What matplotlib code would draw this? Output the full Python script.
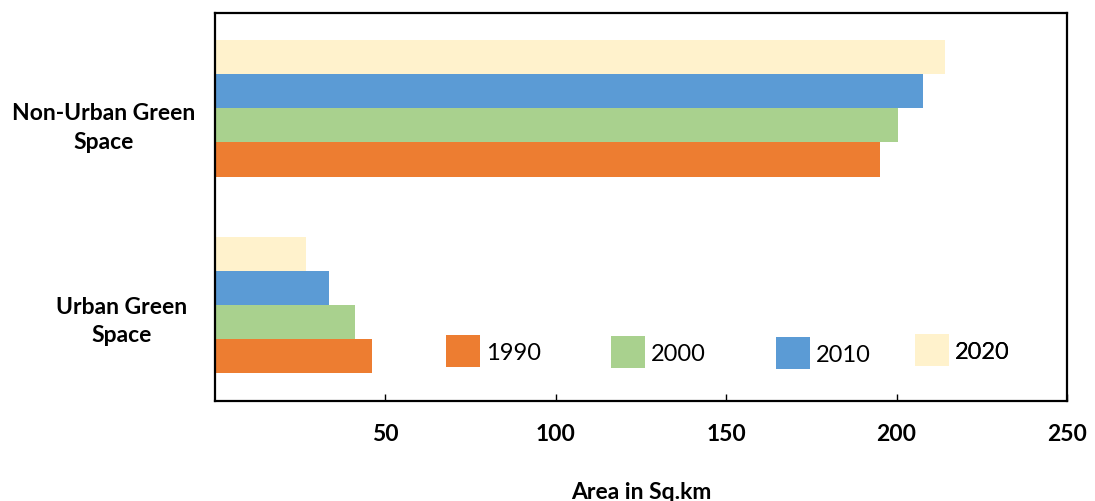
import matplotlib
matplotlib.use("Agg")
import matplotlib.pyplot as plt
import matplotlib.transforms as mtransforms
import numpy as np

categories = ["Urban Green\nSpace", "Non-Urban Green\nSpace"]
years = ["1990", "2000", "2010", "2020"]
v1990 = [46.1, 195.2]
v2000 = [41.0, 200.4]
v2010 = [33.4, 207.8]
v2020 = [26.7, 214.3]
colors = ["#ED7D31", "#A9D18E", "#5B9BD5", "#FFF2CC"]
xticks = [50, 100, 150, 200, 250]

series = [v1990, v2000, v2010, v2020]

plt.rcParams["font.family"] = ["Lato", "DejaVu Sans"]

fig = plt.figure(figsize=(10.95, 5.02), dpi=100)
ax = fig.add_axes([215/1095, 1-402/502, (1067-215)/1095, (402-14)/502])

y = np.arange(len(categories))
h = 0.1735
handles = []
for i, (vals, c, lab) in enumerate(zip(series, colors, years)):
    b = ax.barh(y + (i - 1.5) * h, vals, height=h, color=c, label=lab,
                edgecolor="none")
    handles.append(b)

ax.set_xlim(0, 250)
ax.set_ylim(-0.492, 1.487)
ax.set_xticks(xticks)
ax.set_xticklabels([str(t) for t in xticks], fontsize=16.5, fontweight="bold")
ax.tick_params(axis="x", direction="in", length=5, width=1, pad=15.5)
ax.set_yticks(y)
ax.set_yticklabels(categories, fontsize=16.5, fontweight="bold",
                   multialignment="center", linespacing=1.45)
ax.tick_params(axis="y", length=0, pad=14)
label_dx = [-8, 0]  # px
label_dy = [-10, -13]  # px
for lbl, dx, dy in zip(ax.get_yticklabels(), label_dx, label_dy):
    shift = mtransforms.ScaledTranslation(dx/100, dy/100, fig.dpi_scale_trans)
    lbl.set_transform(lbl.get_transform() + shift)
for s in ax.spines.values():
    s.set_linewidth(1.6)
    s.set_color("black")

ax.set_xlabel("Area in Sq.km", fontsize=16.5, fontweight="bold", labelpad=27)

# legend entries placed individually (uneven spacing in reference)
anchors = [(446, 352), (611, 353), (776, 354), (915, 351)]
for hdl, lab, (px, py) in zip(handles, years, anchors):
    ax_x = (px - 215) / (1067 - 215)
    ax_y = (402 - py) / (402 - 14)
    leg = ax.legend([hdl], [lab], loc="center left", bbox_to_anchor=(ax_x, ax_y),
                    frameon=False, fontsize=17, handlelength=1.45,
                    handleheight=1.75, handletextpad=0.25, borderpad=0,
                    borderaxespad=0)
    ax.add_artist(leg)

fig.savefig("out.png", dpi=100)
